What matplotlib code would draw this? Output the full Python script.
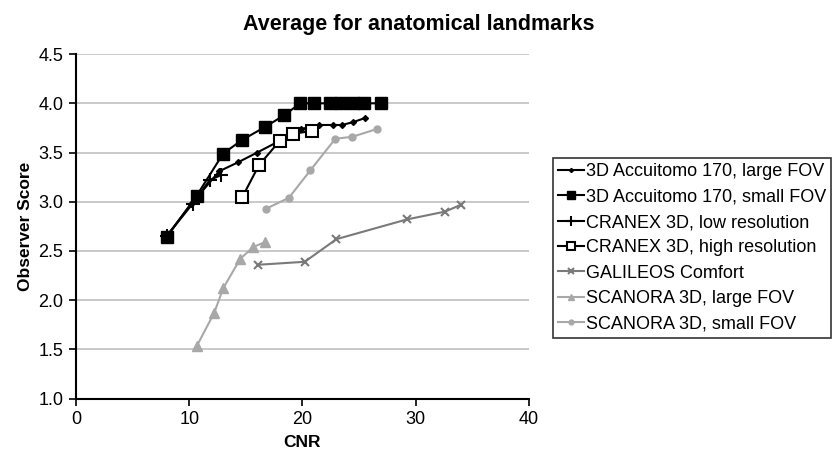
import matplotlib
matplotlib.use('Agg')
import matplotlib.pyplot as plt

plt.rcParams['font.family'] = ['Liberation Sans', 'DejaVu Sans']

# CNR / observer score
acc_large_x = [8.0, 10.2, 12.65, 14.3, 16.0, 18.0, 19.9, 21.5, 22.7, 23.5, 24.5, 25.5]
acc_large_y = [2.65, 2.98, 3.31, 3.40, 3.50, 3.62, 3.74, 3.78, 3.78, 3.78, 3.81, 3.85]

acc_small_x = [8.0, 10.65, 13.0, 14.7, 16.7, 18.4, 19.8, 21.0, 22.4, 23.4, 24.5, 25.4, 26.9]
acc_small_y = [2.64, 3.06, 3.49, 3.63, 3.76, 3.88, 4.0, 4.0, 4.0, 4.0, 4.0, 4.0, 4.0]

cranex_low_x = [8.0, 10.3, 11.8, 12.8]
cranex_low_y = [2.65, 2.98, 3.22, 3.27]

cranex_high_x = [14.7, 16.15, 18.0, 19.2, 20.8]
cranex_high_y = [3.05, 3.37, 3.62, 3.69, 3.72]

galileos_x = [16.1, 20.2, 23.0, 29.2, 32.6, 34.0]
galileos_y = [2.36, 2.39, 2.62, 2.82, 2.90, 2.97]

scan_large_x = [10.65, 12.2, 13.0, 14.5, 15.65, 16.7]
scan_large_y = [1.53, 1.87, 2.12, 2.42, 2.54, 2.59]

scan_small_x = [16.8, 18.8, 20.7, 22.9, 24.4, 26.6]
scan_small_y = [2.93, 3.04, 3.32, 3.64, 3.66, 3.74]

labels = [
    '3D Accuitomo 170, large FOV',
    '3D Accuitomo 170, small FOV',
    'CRANEX 3D, low resolution',
    'CRANEX 3D, high resolution',
    'GALILEOS Comfort',
    'SCANORA 3D, large FOV',
    'SCANORA 3D, small FOV',
]

y_ticks = [1.0, 1.5, 2.0, 2.5, 3.0, 3.5, 4.0, 4.5]
x_ticks = [0, 10, 20, 30, 40]

DARK_GREY = '#7a7a7a'
LIGHT_GREY = '#a8a8a8'

fig = plt.figure(figsize=(8.33, 4.54), dpi=100)
ax = fig.add_axes([0.0912, 0.122, 0.5438, 0.7588])

ax.plot(acc_large_x, acc_large_y, color='black', lw=1.5, marker='D', ms=3, label=labels[0])
ax.plot(acc_small_x, acc_small_y, color='black', lw=1.5, marker='s', ms=8, label=labels[1])
ax.plot(cranex_low_x, cranex_low_y, color='black', lw=1.5, marker='+', ms=10, mew=1.5, label=labels[2])
ax.plot(cranex_high_x, cranex_high_y, color='black', lw=1.5, marker='s', ms=9,
        mfc='white', mew=1.5, label=labels[3])
ax.plot(galileos_x, galileos_y, color=DARK_GREY, lw=1.5, marker='x', ms=6, mew=1.5, label=labels[4])
ax.plot(scan_large_x, scan_large_y, color=LIGHT_GREY, lw=1.5, marker='^', ms=7, label=labels[5])
ax.plot(scan_small_x, scan_small_y, color=LIGHT_GREY, lw=1.5, marker='o', ms=5, label=labels[6])

ax.set_xlim(0, 40)
ax.set_ylim(1.0, 4.5)
ax.set_xticks(x_ticks)
ax.set_yticks(y_ticks)
ax.set_yticklabels([f'{v:.1f}' for v in y_ticks])
ax.tick_params(labelsize=13, length=5, width=1.2, direction='out', pad=4)
ax.yaxis.grid(True, color='#c0c0c0', lw=1.2)
ax.set_axisbelow(True)
for side in ['top', 'right']:
    ax.spines[side].set_visible(False)
for side in ['left', 'bottom']:
    ax.spines[side].set_linewidth(1.5)

ax.set_xlabel('CNR', fontsize=12.5, fontweight='bold', labelpad=5)
ax.set_ylabel('Observer Score', fontsize=12.5, fontweight='bold', labelpad=4)
fig.text(0.503, 0.947, 'Average for anatomical landmarks', fontsize=15.5,
         fontweight='bold', ha='center', va='center')

leg = fig.legend(loc='upper left', bbox_to_anchor=(553 / 833, 1 - 158 / 454),
                 fontsize=13, frameon=True, fancybox=False, edgecolor='black',
                 handlelength=1.4, handletextpad=0.1, labelspacing=0.46,
                 borderpad=0.3, borderaxespad=0, markerscale=0.7)
leg.get_frame().set_linewidth(1.2)

fig.savefig('out.png', dpi=100)
